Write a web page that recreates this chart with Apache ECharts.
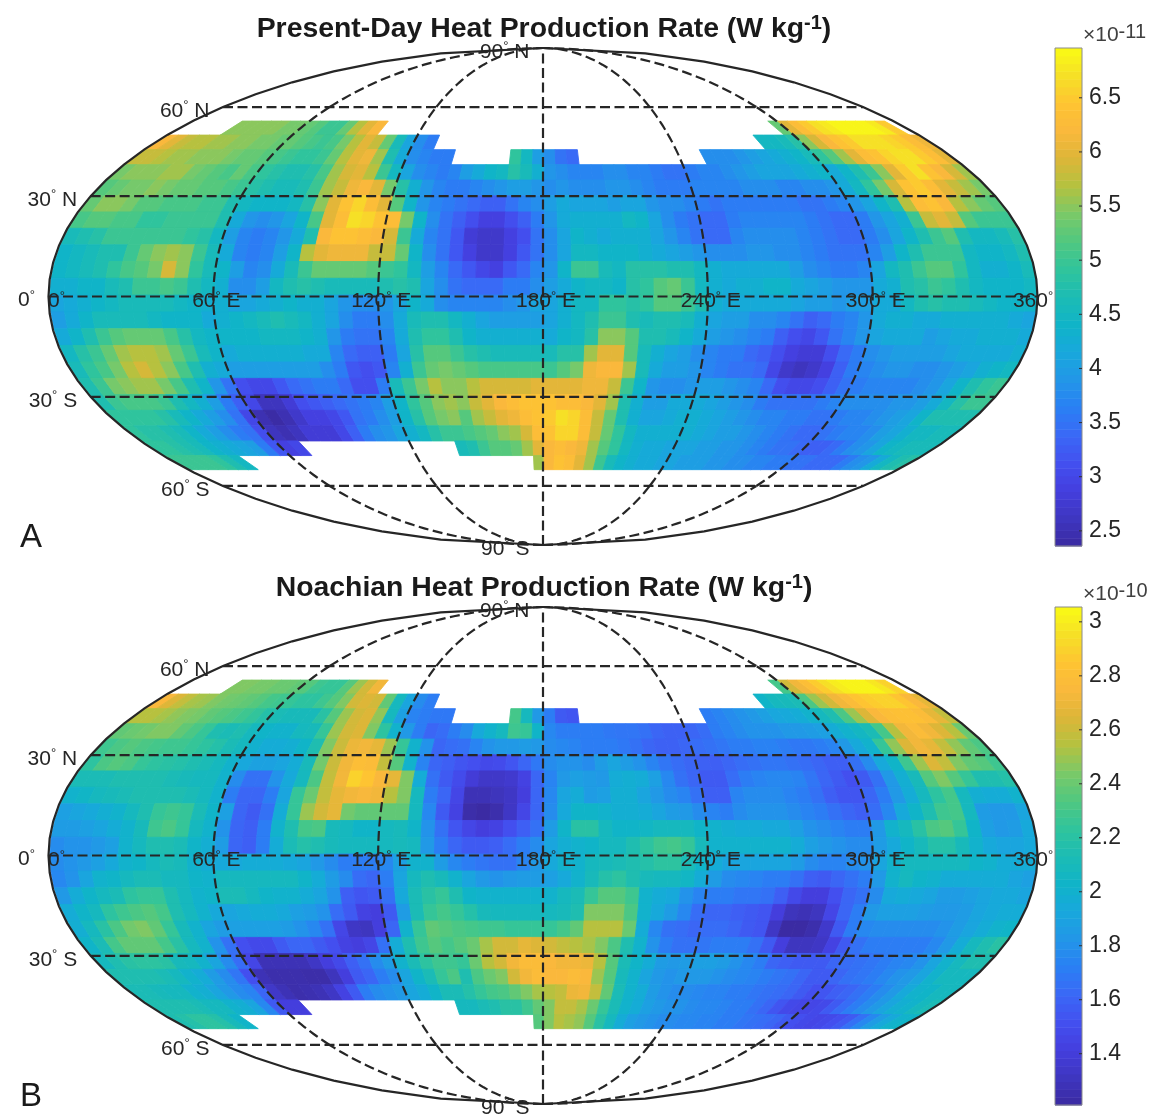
<!DOCTYPE html>
<html><head><meta charset="utf-8">
<style>html,body{margin:0;padding:0;background:#fff}#c{width:1157px;height:1119px;filter:blur(0.35px)}</style>
<script src="https://cdn.jsdelivr.net/npm/echarts@6/dist/echarts.min.js"></script>
</head><body><div id="c"></div>
<script>
const gap = n => Array(n).fill(null);

// Panel A: present-day heat production, unit 1e-12 W/kg. One list per latitude band, north to south; 72 x 5 deg longitude cells.
const pd00=[...gap(5),55,55,55,55,55,54,54,53,52,50,50,53,57,60,62,...gap(39),53,60,63,65,67,68,69,69,69,69,68,65,...gap(1)];
const pd01=[62,60,58,57,57,56,56,55,55,54,54,53,53,52,51,50,51,54,57,60,58,53,46,41,38,36,...gap(30),45,45,46,48,55,59,62,64,65,67,67,67,66,65,63,61];
const pd02=[58,58,57,56,56,55,55,55,54,53,53,52,51,50,49,49,50,53,57,60,61,56,47,42,38,37,36,36,...gap(5),49,45,40,38,35,34,...gap(11),38,38,38,39,40,41,42,43,44,46,49,52,56,60,63,64,66,67,67,65,63,60];
const pd03=[54,55,55,55,56,56,54,53,52,51,53,51,49,48,47,47,48,51,56,59,60,57,50,45,41,38,37,36,37,40,42,44,45,48,46,43,39,38,37,37,37,38,38,37,37,36,35,35,36,37,37,38,39,40,41,41,41,42,43,44,42,44,47,50,55,60,65,67,64,62,59,56];
const pd04=[52,53,54,54,55,54,53,53,52,52,51,50,48,47,46,46,47,50,56,58,61,62,60,54,48,43,39,37,36,36,37,38,39,40,40,39,38,39,38,38,38,39,39,38,37,36,36,36,37,37,37,37,38,38,38,37,37,38,38,39,42,45,49,54,59,64,65,63,60,58,56,54];
const pd05=[53,55,55,54,52,52,51,51,51,50,50,47,45,44,44,44,45,48,55,60,64,66,63,60,52,44,39,37,36,35,34,33,33,35,37,38,40,42,41,41,41,40,41,41,39,38,38,37,36,35,36,36,36,36,36,36,35,35,36,37,39,41,44,47,57,63,64,62,57,55,53,52];
const pd06=[51,52,52,51,51,49,49,50,50,50,50,47,42,39,38,39,41,44,51,60,63,67,66,64,63,54,44,38,35,33,31,29,29,31,33,36,39,42,43,43,43,43,45,44,41,38,36,35,34,34,36,37,37,37,37,37,36,35,34,34,36,39,41,43,50,58,60,58,52,50,50,50];
const pd07=[46,47,48,50,50,50,50,50,50,49,48,45,40,37,36,37,39,42,47,62,64,64,63,62,59,50,42,37,35,32,28,27,27,29,31,35,38,41,44,43,42,43,43,43,41,39,37,35,34,34,37,38,38,38,38,37,36,35,34,34,36,38,41,44,47,50,52,47,45,45,46,48];
const pd08=[44,45,46,47,47,50,53,55,56,55,50,46,42,37,36,37,40,44,57,60,61,61,61,58,58,53,44,38,35,32,29,27,27,29,32,35,38,41,45,45,44,44,44,43,42,41,40,39,38,38,38,39,39,38,38,37,36,35,35,35,37,40,44,47,50,50,50,45,44,44,45,47];
const pd09=[44,45,46,47,49,51,52,54,59,55,49,46,44,40,37,38,42,46,50,53,53,53,53,52,50,49,45,40,37,34,32,30,29,32,34,37,39,44,50,50,46,45,48,48,48,47,47,45,43,42,42,42,42,42,40,38,37,36,36,37,41,45,47,50,52,52,49,45,43,43,44,46];
const pd10=[43,43,44,44,46,47,50,50,51,50,47,45,43,38,38,40,45,47,48,47,46,46,46,46,47,48,47,41,38,35,34,34,34,36,36,38,40,42,44,45,45,44,48,49,52,53,50,45,43,42,43,43,44,44,42,41,40,39,39,39,42,43,47,48,50,49,47,45,44,44,44,45];
const pd11=[41,42,43,44,45,46,46,46,46,45,44,43,43,41,41,42,43,44,43,43,41,39,38,38,39,41,44,42,38,37,37,37,37,38,39,41,41,43,45,45,49,49,48,49,52,52,50,47,43,42,42,42,42,42,41,40,40,39,40,40,42,42,45,47,48,47,47,46,45,44,44,44];
const pd12=[40,42,44,46,46,46,46,45,44,44,44,42,43,44,45,46,47,46,45,43,41,38,36,36,38,42,46,47,47,45,43,41,40,40,40,40,41,43,45,47,50,50,47,46,47,47,46,43,41,40,40,38,38,37,35,33,34,36,37,39,42,43,43,42,42,43,43,43,43,43,42,41];
const pd13=[42,44,47,50,52,53,53,53,51,48,45,44,44,44,44,45,45,45,44,43,39,36,35,35,37,42,47,49,49,47,44,43,43,43,43,43,42,44,45,48,55,55,52,47,47,46,44,42,40,39,38,37,36,33,31,30,32,35,37,39,41,42,42,42,40,41,42,42,43,43,43,42];
const pd14=[45,48,50,53,56,57,57,56,53,50,46,44,42,43,43,43,43,43,42,42,37,34,33,33,36,41,48,52,52,50,48,47,46,46,46,46,46,48,48,56,60,60,52,46,43,41,40,38,37,36,36,34,33,31,29,28,28,31,34,36,38,39,40,40,40,40,41,42,42,42,42,43];
const pd15=[46,49,51,54,57,59,57,55,51,47,43,42,40,40,40,40,40,40,40,38,36,32,31,32,37,43,50,53,54,53,52,51,51,51,51,51,50,52,54,61,62,62,56,46,42,40,40,39,37,36,35,35,34,30,27,26,27,29,33,36,37,38,39,39,38,38,39,40,41,43,44,45];
const pd16=[47,50,54,55,56,56,54,51,47,44,39,35,31,30,30,32,34,35,36,36,34,31,31,36,46,50,54,57,55,55,57,59,59,59,59,60,60,60,60,61,61,58,50,44,39,38,38,39,40,40,39,38,37,34,31,30,30,31,33,35,36,37,37,37,37,38,39,41,44,47,49,50];
const pd17=[47,50,51,51,51,50,47,45,43,40,36,33,30,26,26,28,31,32,33,34,35,36,37,40,44,49,52,55,56,55,58,60,62,63,64,64,64,63,63,62,60,56,47,43,40,40,42,42,42,41,40,39,38,36,35,35,35,35,36,37,38,38,38,38,39,39,40,42,45,48,50,50];
const pd18=[49,49,49,49,48,46,44,42,40,38,35,30,25,24,25,27,29,29,30,32,35,36,38,40,44,48,52,54,55,52,56,58,60,61,63,64,65,67,66,63,58,53,47,43,41,41,42,43,43,42,41,40,39,38,37,37,36,36,35,35,36,37,37,38,39,40,41,44,47,47,47,47];
const pd19=[49,48,48,47,46,44,42,40,38,36,35,31,26,25,26,28,28,28,30,33,36,38,39,41,43,45,48,50,50,51,52,53,55,56,59,63,64,66,66,63,58,53,49,45,43,43,43,43,43,42,41,40,40,39,38,37,36,35,34,34,35,36,37,37,38,40,41,43,45,45,46,46];
const pd20=[49,49,48,47,46,44,43,42,41,40,36,32,29,30,...gap(14),46,47,50,52,52,53,56,60,62,63,62,61,56,52,49,45,43,42,42,41,41,41,40,40,39,39,38,37,36,35,35,34,33,33,34,36,38,39,41,44,45,46,46,46];
const pd21=[50,50,50,50,49,47,45,...gap(28),56,62,64,63,60,56,50,46,44,43,42,42,41,41,40,40,40,39,39,38,38,37,37,36,36,35,35,34,34,34,36,38,39,42,45,47,48];

// Panel B: Noachian heat production, unit 1e-12 W/kg.
const nq00=[...gap(5),245,245,243,243,240,240,238,235,228,225,225,235,250,262,272,...gap(39),230,262,272,280,288,295,300,303,303,303,298,290,...gap(1)];
const nq01=[275,265,258,252,250,245,242,240,238,235,230,228,225,222,222,228,235,245,262,265,262,238,208,191,178,171,...gap(30),203,208,210,212,232,250,262,272,278,285,288,290,290,285,275,268];
const nq02=[255,255,252,248,245,243,238,235,232,228,224,218,212,210,210,210,220,235,250,262,265,248,208,188,174,171,169,169,...gap(5),230,208,184,171,156,154,...gap(11),171,174,178,181,184,188,192,194,196,201,208,215,232,250,265,275,280,282,282,278,268,258];
const nq03=[238,240,242,245,245,238,232,225,215,212,215,208,203,201,201,208,210,225,250,262,265,245,222,201,184,171,161,164,171,178,194,201,208,228,225,203,176,171,171,171,171,169,168,168,166,161,159,159,161,164,171,174,178,181,181,181,184,184,186,188,196,201,206,212,230,255,272,278,272,265,255,240];
const nq04=[228,232,235,232,230,228,228,225,222,218,212,208,200,196,196,198,203,215,245,260,270,272,268,250,225,201,181,161,164,166,174,181,184,184,186,184,178,176,174,171,171,171,169,166,161,159,159,161,164,166,168,171,171,173,173,171,169,169,171,174,184,194,201,225,248,265,272,268,258,248,238,232];
const nq05=[222,232,235,232,225,222,220,218,215,212,208,201,193,189,189,191,196,210,242,260,272,280,278,258,235,201,174,161,158,154,151,148,149,154,161,169,178,181,181,178,186,191,186,181,174,168,164,161,159,158,161,164,166,168,168,166,164,161,158,158,166,178,194,203,228,250,265,258,245,238,235,228];
const nq06=[212,212,212,215,215,215,215,212,210,208,208,201,178,166,166,181,194,208,232,258,272,290,285,275,268,245,196,166,156,149,139,134,134,136,144,161,174,184,188,186,184,196,198,196,188,176,166,161,156,156,164,171,174,176,176,174,168,161,156,151,156,166,184,198,210,235,245,235,225,215,215,218];
const nq07=[201,204,208,210,212,215,215,215,215,212,208,201,171,161,161,171,191,225,240,258,268,272,274,272,255,245,208,171,161,146,128,128,130,133,141,161,176,191,196,186,188,198,198,191,184,178,174,166,158,158,174,178,178,178,174,171,166,158,154,154,161,171,184,196,208,222,230,208,198,196,196,201];
const nq08=[188,191,194,198,201,208,215,225,228,225,212,203,188,161,156,166,196,225,250,262,268,242,238,238,238,238,208,176,156,144,124,122,125,133,146,161,178,194,203,203,201,198,198,196,191,186,184,178,174,171,178,181,181,181,178,174,171,166,161,158,164,176,194,203,215,228,230,208,186,184,184,191];
const nq09=[186,186,188,191,196,201,210,228,232,225,208,201,181,161,158,171,201,215,230,232,210,208,203,203,208,210,203,181,166,154,146,141,144,151,158,166,186,203,220,220,208,203,203,205,208,208,208,203,201,198,196,196,194,194,188,181,178,174,171,171,184,201,208,220,232,235,225,203,188,184,186,194];
const nq10=[178,181,181,184,188,201,208,215,215,212,203,198,186,161,158,171,196,212,218,215,210,208,208,208,208,210,208,184,171,161,156,156,158,164,171,178,191,198,201,203,208,208,215,222,228,230,225,210,201,201,201,201,201,201,196,188,184,181,178,178,186,194,203,210,218,218,210,201,194,191,191,194];
const nq11=[178,181,184,188,194,201,203,208,212,210,201,196,194,194,196,196,196,194,191,184,178,171,171,171,176,188,201,201,186,176,171,168,166,166,174,184,194,201,201,208,210,212,215,218,222,222,212,203,196,191,191,191,191,191,186,178,174,174,178,181,191,201,208,208,208,208,208,203,201,196,196,196];
const nq12=[176,181,191,201,203,208,212,212,208,208,203,201,208,208,208,208,208,208,203,196,186,178,164,161,171,191,208,215,210,201,191,184,181,184,186,186,188,194,201,210,218,222,215,210,208,208,205,196,186,178,176,174,171,171,166,158,156,161,166,171,184,201,208,203,201,196,196,196,196,196,191,188];
const nq13=[184,196,203,208,212,222,225,225,215,208,201,203,212,212,208,203,201,201,196,191,181,158,154,156,166,194,212,220,225,215,203,201,201,201,201,201,201,208,212,225,235,235,228,201,196,194,181,174,171,171,168,168,166,158,148,141,141,151,161,166,178,194,196,194,191,186,186,188,191,194,194,191];
const nq14=[196,203,208,222,228,232,235,230,215,208,201,194,191,194,196,196,194,188,186,181,164,156,144,141,156,186,212,225,230,225,218,210,208,208,208,208,208,210,215,245,245,245,232,201,194,186,176,164,161,161,158,156,154,141,130,128,131,146,161,171,184,188,188,188,186,184,184,186,191,194,196,196];
const nq15=[198,208,220,232,242,245,238,225,210,201,191,186,188,188,188,188,186,181,176,166,146,133,131,141,161,201,225,238,235,232,230,228,228,225,225,225,225,230,238,255,255,255,240,196,176,166,164,161,164,164,161,156,154,133,122,122,125,135,156,171,176,178,178,178,178,178,181,186,191,196,201,203];
const nq16=[203,212,230,238,238,238,230,220,208,201,181,166,151,148,148,156,161,161,156,151,144,141,146,166,196,215,228,235,230,235,240,252,262,262,268,265,262,258,255,252,245,232,215,201,181,171,166,166,168,171,171,171,166,156,141,131,131,133,144,156,166,171,171,171,171,171,176,184,196,208,215,220];
const nq17=[208,215,220,222,222,220,210,208,201,191,178,164,146,128,128,128,128,133,141,148,158,166,178,186,201,212,222,228,228,225,240,255,262,272,278,278,275,272,272,270,255,235,212,203,196,186,184,186,188,188,186,181,176,171,161,158,156,156,156,161,164,166,168,171,174,176,181,191,201,208,215,215];
const nq18=[215,215,215,215,212,208,201,196,186,178,168,151,128,125,125,125,124,124,130,141,156,161,171,178,191,203,212,225,232,215,232,240,245,262,272,278,275,275,278,275,250,235,210,201,191,184,181,184,184,184,181,178,176,174,171,168,166,161,156,156,161,166,168,171,176,181,184,191,201,208,208,208];
const nq19=[212,212,210,208,208,201,198,191,184,178,174,161,134,128,125,126,128,133,144,156,171,178,181,184,191,196,203,212,212,218,225,230,232,238,245,252,255,258,270,272,258,238,212,201,196,186,181,178,178,176,174,174,171,171,168,166,164,161,156,151,154,158,161,166,171,178,184,194,201,203,208,208];
const nq20=[215,215,215,215,212,208,208,201,198,191,176,156,141,141,...gap(14),208,208,212,215,220,220,228,238,245,258,258,252,240,225,212,201,196,188,184,181,181,178,176,176,174,171,171,166,161,154,148,146,146,148,156,164,171,178,184,191,198,201,208,212];
const nq21=[215,218,222,222,218,210,203,...gap(28),235,245,255,252,248,235,220,208,196,188,184,181,178,178,176,176,174,174,171,171,168,166,164,161,156,151,148,146,148,151,156,166,176,186,194,201,203];

const presentRows=[pd00,pd01,pd02,pd03,pd04,pd05,pd06,pd07,pd08,pd09,pd10,pd11,pd12,pd13,pd14,pd15,pd16,pd17,pd18,pd19,pd20,pd21];
const noachianRows=[nq00,nq01,nq02,nq03,nq04,nq05,nq06,nq07,nq08,nq09,nq10,nq11,nq12,nq13,nq14,nq15,nq16,nq17,nq18,nq19,nq20,nq21];
const presentUnit=0.1, noachianUnit=0.01;   // to the colour-bar units

const presentTicks=[2.5,3,3.5,4,4.5,5,5.5,6,6.5];
const noachianTicks=[1.4,1.6,1.8,2,2.2,2.4,2.6,2.8,3];
const presentRange=[2.36,6.96], noachianRange=[1.21,3.055];
const parallels=[60,30,0,-30,-60];
const meridians=[60,120,180,240,300];
const lonLabels=[0,60,120,180,240,300,360];
const latLabels=[[90,'N'],[60,'N'],[30,'N'],[0,''],[30,'S'],[60,'S'],[90,'S']];

const parula=['#3b2aa0','#3e36c0','#443ede','#4350f0','#3a68f6','#2a80f4','#2296e8','#18a8dc','#10b4c8','#1cbcb4','#30c49c','#50c880','#7ac968','#b4c240','#dcb638','#fab83c','#fec432','#f6e026','#f9fb15'];

// Mollweide projection
function moll(lon,lat){
  const phi=lat*Math.PI/180;
  let t=phi;
  if(Math.abs(lat)>=89.999){t=Math.sign(lat)*Math.PI/2;}
  else for(let i=0;i<40;i++){t-=(2*t+Math.sin(2*t)-Math.PI*Math.sin(phi))/(2+2*Math.cos(2*t));}
  return [(lon-180)/180*Math.cos(t),Math.sin(t)];
}
const latTop=r=>54.8-4.945*r;
const lonLeft=c=>0.5+5*c;
function cellData(rows,unit){
  const out=[];
  rows.forEach((row,r)=>row.forEach((v,c)=>{ if(v!==null) out.push([c,r,v*unit]); }));
  return out;
}
function renderCell(p,api){
  const c=api.value(0), r=api.value(1);
  const L=lonLeft(c), R=Math.min(360,L+5), T=latTop(r), B=latTop(r+1);
  const pts=[[L,T],[R,T],[R,B],[L,B]].map(q=>api.coord(moll(q[0],q[1])));
  const col=api.visual('color');
  return {type:'polygon',shape:{points:pts},style:{fill:col,stroke:col,lineWidth:0.9}};
}
// grid lines: [kind, value, from, to]  kind 0 parallel, 1 meridian, 2 boundary meridian
const lineData=[];
parallels.forEach(l=>lineData.push([0,l,0,360]));
const latStops=[-90,-60,-30,0,30,60,90];
meridians.forEach(m=>{for(let i=0;i<6;i++)lineData.push([1,m,latStops[i],latStops[i+1]]);});
lineData.push([2,0,-90,90],[2,360,-90,90]);
function renderLine(p,api){
  const kind=api.value(0),v=api.value(1),a=api.value(2),b=api.value(3);
  const pts=[];
  const n=kind===0?2:36;
  for(let i=0;i<=n;i++){
    const s=a+(b-a)*i/n;
    pts.push(api.coord(kind===0?moll(s,v):moll(v,s)));
  }
  return {type:'polyline',shape:{points:pts},style:{
    stroke:'#262626',fill:null,lineWidth:2.2,lineDash:kind===2?null:[10,4.5]}};
}
function rampData(range){
  const out=[],n=64,st=(range[1]-range[0])/n;
  for(let i=0;i<n;i++)out.push([range[0]+i*st,range[0]+(i+1)*st,range[0]+(i+.5)*st]);
  return out;
}
function renderRamp(p,api){
  const a=api.coord([0,api.value(0)]),b=api.coord([1,api.value(1)]);
  return {type:'rect',shape:{x:a[0],y:b[1],width:b[0]-a[0],height:a[1]-b[1]+0.5},style:{fill:api.visual('color')}};
}
function renderFrame(p,api){
  const a=api.coord([0,api.value(0)]),b=api.coord([1,api.value(1)]);
  return {type:'rect',shape:{x:a[0],y:b[1],width:b[0]-a[0],height:a[1]-b[1]},style:{fill:null,stroke:'#8c8c8c',lineWidth:1}};
}
function renderTick(p,api){
  const a=api.coord([1,api.value(0)]);
  return {type:'line',shape:{x1:a[0],y1:a[1],x2:a[0]-3,y2:a[1]},style:{stroke:'#303030',lineWidth:1}};
}
const TXT='#262626', FONT='"Liberation Sans",Arial,sans-serif';
const labelRich={n:{fontSize:21,color:TXT,fontFamily:FONT,textBorderWidth:0,textShadowBlur:0,opacity:1},
  d:{fontSize:13,color:TXT,fontFamily:FONT,padding:[0,0,11,0],textBorderWidth:0,opacity:1}};
function latLabelData(){
  return latLabels.map(q=>{
    const sign=q[1]==='S'?-1:1;
    const pt=moll(q[0]===90?180:0,q[0]*sign);
    return {value:pt,label:{formatter:'{n|'+q[0]+'}{d|°}'+(q[1]?'{n| '+q[1]+'}':'')}};
  });
}
function lonLabelData(){
  return lonLabels.map(l=>({value:moll(l,0),
    label:{formatter:'{n|'+l+'}{d|°}'+((l===0||l===360)?'':'{n| E}'),
      offset:[l===0?8:(l===360?-4.5:3),5]}}));
}
function panel(idx,top,rows,unit,range,ticks){
  const g=[
   {left:48.5,top:top,width:989,height:497},
   {left:1055,top:top,width:27,height:498}
  ];
  const xa=[{gridIndex:idx*2,type:'value',min:-1,max:1,show:false},
            {gridIndex:idx*2+1,type:'value',min:0,max:1,show:false}];
  const ya=[{gridIndex:idx*2,type:'value',min:-1,max:1,show:false},
            {gridIndex:idx*2+1,type:'value',min:range[0],max:range[1],position:'right',
             axisLine:{show:false},splitLine:{show:false},axisTick:{show:false},
             axisLabel:{show:true,margin:7,fontSize:23,color:TXT,fontFamily:FONT,customValues:ticks,padding:[3,0,0,0],
               formatter:v=>String(+v.toFixed(2))}}];
  const s0=idx*5;
  const hidden={color:'transparent'};
  const lblBase={show:true,color:TXT,opacity:1,textBorderWidth:0,rich:labelRich};
  const series=[
   {type:'custom',xAxisIndex:idx*2,yAxisIndex:idx*2,data:cellData(rows,unit),renderItem:renderCell,silent:true,progressive:0,z:2,encode:{x:0,y:1}},
   {type:'custom',xAxisIndex:idx*2,yAxisIndex:idx*2,data:lineData,renderItem:renderLine,silent:true,progressive:0,z:3,encode:{x:1,y:2}},
   {type:'scatter',xAxisIndex:idx*2,yAxisIndex:idx*2,data:latLabelData(),symbolSize:1,itemStyle:hidden,silent:true,clip:false,z:4,
     label:{...lblBase,position:'left',distance:13,offset:[0,4]}},
   {type:'scatter',xAxisIndex:idx*2,yAxisIndex:idx*2,data:lonLabelData(),symbolSize:1,itemStyle:hidden,silent:true,clip:false,z:4,
     label:{...lblBase,position:'inside'}},
   {type:'custom',xAxisIndex:idx*2+1,yAxisIndex:idx*2+1,data:rampData(range),renderItem:renderRamp,silent:true,progressive:0,z:2,encode:{x:2,y:0}}
  ];
  const vm={type:'continuous',show:false,min:range[0],max:range[1],dimension:2,seriesIndex:[s0,s0+4],inRange:{color:parula}};
  return {g,xa,ya,series,vm};
}
const pa=panel(0,48,presentRows,presentUnit,presentRange,presentTicks);
const pb=panel(1,607,noachianRows,noachianUnit,noachianRange,noachianTicks);
const frames=[
 {type:'custom',xAxisIndex:1,yAxisIndex:1,data:[[presentRange[0],presentRange[1]]],renderItem:renderFrame,silent:true,z:5,encode:{x:0,y:1}},
 {type:'custom',xAxisIndex:3,yAxisIndex:3,data:[[noachianRange[0],noachianRange[1]]],renderItem:renderFrame,silent:true,z:5,encode:{x:0,y:1}},
 {type:'custom',xAxisIndex:1,yAxisIndex:1,data:presentTicks.map(v=>[v]),renderItem:renderTick,silent:true,z:5,encode:{y:0}},
 {type:'custom',xAxisIndex:3,yAxisIndex:3,data:noachianTicks.map(v=>[v]),renderItem:renderTick,silent:true,z:5,encode:{y:0}}
];
const titleRich={t:{fontSize:28.4,fontWeight:'bold',color:'#1a1a1a',fontFamily:FONT},
                 s:{fontSize:20,fontWeight:'bold',color:'#1a1a1a',fontFamily:FONT,padding:[0,0,12,0]}};
const expRich={t:{fontSize:21,fontWeight:'normal',color:'#404040',fontFamily:FONT},s:{fontSize:20,fontWeight:'normal',color:'#404040',fontFamily:FONT,padding:[0,0,7,0]}};
const option={
 animation:false,backgroundColor:'#fff',
 title:[
  {text:'{t|Present-Day Heat Production Rate (W kg}{s|-1}{t|)}',left:539,top:8,textAlign:'center',textStyle:{rich:titleRich}},
  {text:'{t|Noachian Heat Production Rate (W kg}{s|-1}{t|)}',left:539,top:567,textAlign:'center',textStyle:{rich:titleRich}},
  {text:'{t|×10}{s|-11}',left:1078,top:17,textStyle:{rich:expRich}},
  {text:'{t|×10}{s|-10}',left:1078,top:576,textStyle:{rich:expRich}},
  {text:'A',left:15,top:516,textStyle:{fontSize:33,fontWeight:'normal',color:'#1a1a1a',fontFamily:FONT}},
  {text:'B',left:15,top:1075,textStyle:{fontSize:33,fontWeight:'normal',color:'#1a1a1a',fontFamily:FONT}}
 ],
 grid:[...pa.g,...pb.g],
 xAxis:[...pa.xa,...pb.xa],
 yAxis:[...pa.ya,...pb.ya],
 visualMap:[pa.vm,pb.vm],
 series:[...pa.series,...pb.series,...frames]
};
echarts.init(document.getElementById('c'),null,{renderer:'canvas'}).setOption(option);
</script></body></html>
